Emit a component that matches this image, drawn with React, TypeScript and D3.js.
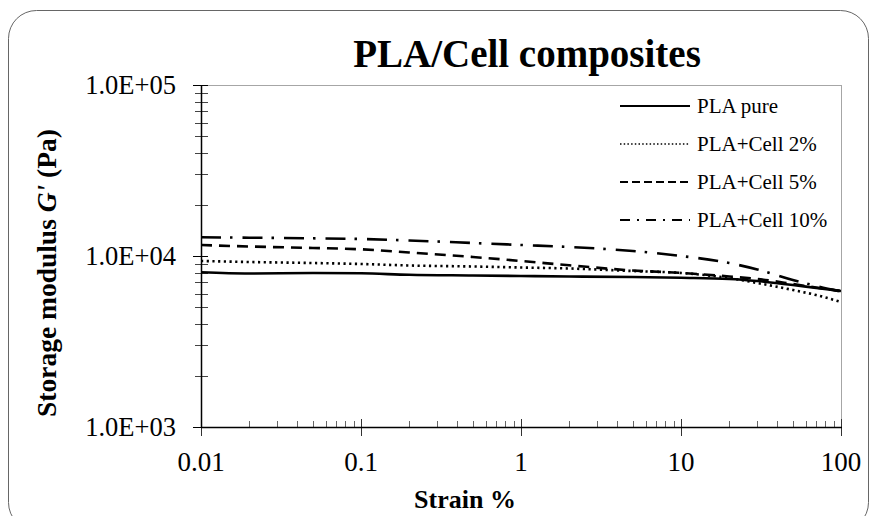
import React from "react";
import * as d3 from "d3";

const strain = [0.01, 0.02, 0.05, 0.1, 0.2, 0.5, 1, 2, 5, 10, 20, 30, 50, 70, 100];
const plaPure = [8029, 7901, 7954, 7921, 7764, 7691, 7638, 7587, 7540, 7460, 7340, 7140, 6770, 6500, 6240];
const plaCell2 = [9350, 9224, 9100, 8980, 8800, 8683, 8565, 8450, 8170, 7960, 7430, 6950, 6330, 5910, 5380];
const plaCell5 = [11597, 11365, 11140, 10945, 10484, 9867, 9350, 8822, 8227, 7960, 7590, 7340, 6860, 6540, 6240];
const plaCell10 = [12864, 12794, 12691, 12571, 12320, 11912, 11597, 11289, 10696, 10000, 9100, 8340, 7240, 6680, 6190];

const seriesNames = ["PLA pure", "PLA+Cell 2%", "PLA+Cell 5%", "PLA+Cell 10%"];
const seriesValues = [plaPure, plaCell2, plaCell5, plaCell10];
const xTickLabels = ["0.01", "0.1", "1", "10", "100"];
const xTickValues = [0.01, 0.1, 1, 10, 100];
const yTickLabels = ["1.0E+03", "1.0E+04", "1.0E+05"];
const yTickValues = [1000, 10000, 100000];

const plotDash = ["", "2.2,3.5", "11,7", "20,9,2.5,10"];
const legendDash = ["", "1.5,2.2", "8,4", "10,7,2,7"];
const legendWidth = [2.2, 1.3, 2.2, 2.2];

const FONT = "'Liberation Serif', 'Times New Roman', serif";

export default function App() {
  const left = 201, right = 841, top = 85, bottom = 427;
  const x = d3.scaleLog().domain([0.01, 100]).range([left, right]);
  const y = d3.scaleLog().domain([1000, 100000]).range([bottom, top]);

  const line = d3
    .line<[number, number]>()
    .x((d) => x(d[0]))
    .y((d) => y(d[1]))
    .curve(d3.curveMonotoneX);

  const xMinor: number[] = [];
  for (let e = -2; e < 2; e++) {
    for (let m = 2; m <= 9; m++) xMinor.push(m * Math.pow(10, e));
  }
  const yMinor: number[] = [];
  for (let e = 3; e < 5; e++) {
    for (let m = 2; m <= 9; m++) yMinor.push(m * Math.pow(10, e));
  }

  const legendX1 = 620, legendX2 = 690, legendTextX = 697;
  const legendY = [106, 144, 182, 220];

  return (
    <svg
      width={874}
      height={516}
      style={{ position: "absolute", left: 0, top: 0, background: "#fff" }}
    >
      <defs>
        <clipPath id="plotclip">
          <rect x={left} y={top} width={right - left} height={bottom - top} />
        </clipPath>
      </defs>
      <rect x={8.5} y={10.5} width={860} height={520} rx={28} ry={28} fill="#fff" stroke="#666" strokeWidth={1} />

      {/* title */}
      <text x={527} y={67} textAnchor="middle" fontFamily={FONT} fontWeight="bold" fontSize={39} fill="#000">
        PLA/Cell composites
      </text>

      {/* plot frame */}
      <line x1={left} x2={right} y1={top + 0.5} y2={top + 0.5} stroke="#a6a6a6" strokeWidth={1} />
      <line x1={right + 0.5} x2={right + 0.5} y1={top} y2={bottom} stroke="#a6a6a6" strokeWidth={1} />

      {/* y minor ticks */}
      {yMinor.map((v) => (
        <line key={"ym" + v} x1={195} x2={208} y1={Math.round(y(v)) + 0.5} y2={Math.round(y(v)) + 0.5} stroke="#444" strokeWidth={1} />
      ))}
      {yTickValues.map((v) => (
        <line key={"yM" + v} x1={193} x2={v === 1000 ? left : 208} y1={Math.round(y(v)) + 0.5} y2={Math.round(y(v)) + 0.5} stroke="#000" strokeWidth={1} />
      ))}
      {/* x minor ticks */}
      {xMinor.map((v) => (
        <line key={"xm" + v} x1={Math.round(x(v)) + 0.5} x2={Math.round(x(v)) + 0.5} y1={421} y2={bottom} stroke="#666" strokeWidth={1} />
      ))}
      {xTickValues.map((v) => (
        <line key={"xM" + v} x1={Math.round(x(v)) + 0.5} x2={Math.round(x(v)) + 0.5} y1={v === 0.01 ? bottom : 419} y2={436} stroke="#333" strokeWidth={1} />
      ))}

      {/* axes */}
      <line x1={left + 0.5} x2={left + 0.5} y1={top} y2={bottom} stroke="#000" strokeWidth={1.5} />
      <line x1={left} x2={right + 1} y1={bottom + 0.5} y2={bottom + 0.5} stroke="#000" strokeWidth={1.5} />

      {/* series */}
      <g clipPath="url(#plotclip)">
        {seriesValues.map((vals, i) => {
          const pts = strain.map((s, j) => [s, vals[j]] as [number, number]);
          return (
            <path
              key={seriesNames[i]}
              d={line(pts) || ""}
              fill="none"
              stroke="#000"
              strokeWidth={2.6}
              strokeDasharray={plotDash[i] || undefined}
            />
          );
        })}
      </g>

      {/* y tick labels */}
      {yTickValues.map((v, i) => (
        <text key={"yl" + v} x={176} y={y(v) + 9} textAnchor="end" fontFamily={FONT} fontSize={26.5} fill="#000">
          {yTickLabels[i]}
        </text>
      ))}
      {/* x tick labels */}
      {xTickValues.map((v, i) => (
        <text key={"xl" + v} x={x(v)} y={470.5} textAnchor="middle" fontFamily={FONT} fontSize={27} fill="#000">
          {xTickLabels[i]}
        </text>
      ))}

      {/* axis titles */}
      <text x={465} y={508} textAnchor="middle" fontFamily={FONT} fontWeight="bold" fontSize={26} fill="#000">
        Strain %
      </text>
      <text
        transform="translate(56,273) rotate(-90)"
        textAnchor="middle"
        fontFamily={FONT}
        fontWeight="bold"
        fontSize={27.5}
        fill="#000"
      >
        Storage modulus <tspan fontStyle="italic">G'</tspan> (Pa)
      </text>

      {/* legend */}
      {seriesNames.map((name, i) => (
        <g key={"lg" + name}>
          <line
            x1={legendX1}
            x2={legendX2}
            y1={legendY[i]}
            y2={legendY[i]}
            stroke="#000"
            strokeWidth={legendWidth[i]}
            strokeDasharray={legendDash[i] || undefined}
          />
          <text x={legendTextX} y={legendY[i] + 7} fontFamily={FONT} fontSize={21} fill="#000">
            {name}
          </text>
        </g>
      ))}
    </svg>
  );
}
